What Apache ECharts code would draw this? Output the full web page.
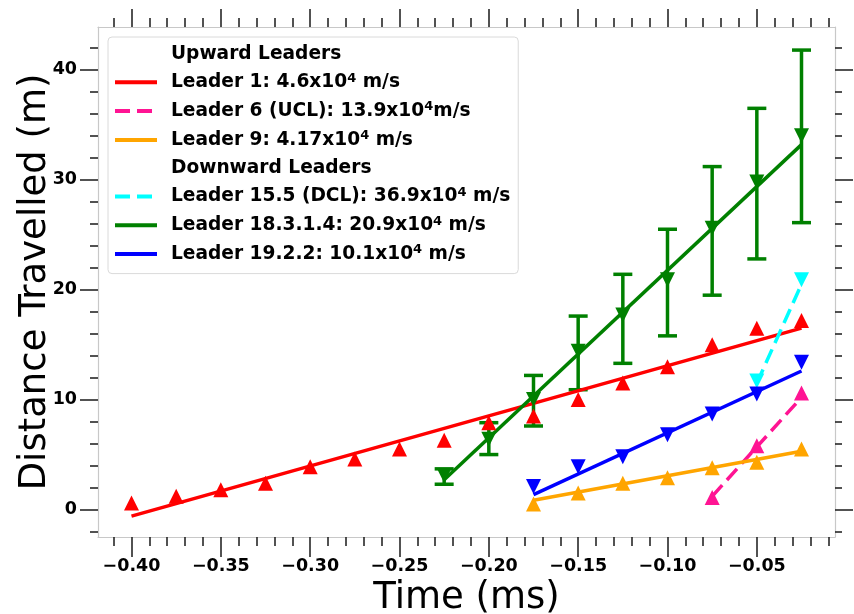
<!DOCTYPE html>
<html>
<head>
<meta charset="utf-8">
<script src="https://cdn.jsdelivr.net/npm/echarts@6/dist/echarts.min.js"></script>
<style>
  html, body { margin: 0; padding: 0; background: #fff; }
  #chart { width: 854px; height: 614px; }
</style>
</head>
<body>
<div id="chart"></div>
<script>
// axis ranges and ticks
const X_MIN = -0.41875
const X_MAX = -0.00625
const Y_MIN = -2.5
const Y_MAX = 43.9
const xMajor = [-0.40, -0.35, -0.30, -0.25, -0.20, -0.15, -0.10, -0.05]
const xMinor = [-0.41, -0.39, -0.38, -0.37, -0.36, -0.34, -0.33, -0.32, -0.31,
  -0.29, -0.28, -0.27, -0.26, -0.24, -0.23, -0.22, -0.21, -0.19, -0.18, -0.17, -0.16,
  -0.14, -0.13, -0.12, -0.11, -0.09, -0.08, -0.07, -0.06, -0.04, -0.03, -0.02, -0.01]
const yMajor = [0, 10, 20, 30, 40]
const yMinor = [-2, 2, 4, 6, 8, 12, 14, 16, 18, 22, 24, 26, 28, 32, 34, 36, 38, 42]

// legend labels
const headUp = 'Upward Leaders'
const headDown = 'Downward Leaders'
const nameL1 = 'Leader 1: 4.6x10⁴ m/s'
const nameL6 = 'Leader 6 (UCL): 13.9x10⁴m/s'
const nameL9 = 'Leader 9: 4.17x10⁴ m/s'
const nameL15 = 'Leader 15.5 (DCL): 36.9x10⁴ m/s'
const nameL18 = 'Leader 18.3.1.4: 20.9x10⁴ m/s'
const nameL19 = 'Leader 19.2.2: 10.1x10⁴ m/s'

// Leader 1 (upward)
const timeL1 = [-0.400, -0.375, -0.350, -0.325, -0.300, -0.275, -0.250, -0.225,
  -0.200, -0.175, -0.150, -0.125, -0.100, -0.075, -0.050, -0.025]
const distL1 = [0.6, 1.2, 1.8, 2.4, 3.9, 4.6, 5.5, 6.3, 7.9, 8.5, 10.0, 11.5, 13.0, 15.0, 16.5, 17.2]
const fitTimeL1 = [-0.400, -0.025]
const fitDistL1 = [-0.6, 16.5]

// Leader 6 (UCL)
const timeL6 = [-0.075, -0.050, -0.025]
const distL6 = [1.1, 5.8, 10.6]
const fitTimeL6 = [-0.075, -0.025]
const fitDistL6 = [1.2, 10.2]

// Leader 9
const timeL9 = [-0.175, -0.150, -0.125, -0.100, -0.075, -0.050, -0.025]
const distL9 = [0.5, 1.5, 2.4, 2.9, 3.8, 4.3, 5.5]
const fitTimeL9 = [-0.175, -0.025]
const fitDistL9 = [0.85, 5.3]

// Leader 15.5 (DCL)
const timeL15 = [-0.050, -0.025]
const distL15 = [11.7, 20.9]
const fitTimeL15 = [-0.050, -0.025]
const fitDistL15 = [11.5, 20.5]

// Leader 18.3.1.4 with error bars
const timeL18 = [-0.225, -0.200, -0.175, -0.150, -0.125, -0.100, -0.075, -0.050, -0.025]
const distL18 = [3.1, 6.4, 10.0, 14.4, 17.7, 20.9, 25.6, 29.8, 34.0]
const lowL18 = [2.3, 5.0, 7.6, 10.9, 13.3, 15.8, 19.5, 22.8, 26.1]
const highL18 = [3.7, 7.9, 12.2, 17.6, 21.4, 25.5, 31.2, 36.5, 41.8]
const fitTimeL18 = [-0.225, -0.025]
const fitDistL18 = [2.7, 33.2]

// Leader 19.2.2
const timeL19 = [-0.175, -0.150, -0.125, -0.100, -0.075, -0.050, -0.025]
const distL19 = [2.1, 3.9, 4.8, 6.8, 8.7, 10.5, 13.4]
const fitTimeL19 = [-0.175, -0.025]
const fitDistL19 = [1.35, 12.6]

const FONT = 'DejaVu Sans'
const SPINE = '#c8c8c8'
const TICK = '#1a1a1a'

function pairs(xs, ys) {
  return xs.map((x, i) => [x, ys[i]])
}

function fitLine(name, xs, ys, color, dashed) {
  return {
    type: 'line',
    name,
    data: pairs(xs, ys),
    symbol: 'none',
    z: 2,
    lineStyle: { color, width: 3.5, type: dashed ? [15, 7] : 'solid' },
    itemStyle: { color },
  }
}

function markers(xs, ys, color, down) {
  return {
    type: 'scatter',
    data: pairs(xs, ys),
    symbol: 'triangle',
    symbolSize: 15,
    symbolRotate: down ? 180 : 0,
    itemStyle: { color, opacity: 1 },
    z: 3,
  }
}

function heading(name) {
  return {
    type: 'line',
    name,
    data: [],
    symbol: 'none',
    lineStyle: { color: 'rgba(0,0,0,0)' },
    itemStyle: { color: 'rgba(0,0,0,0)' },
  }
}

function tickLabel(v) {
  const s = Math.abs(v).toFixed(2)
  return v < 0 ? '\u2212' + s : s
}

function xAxis(position, ticks, len, main) {
  return {
    type: 'value',
    position,
    min: X_MIN,
    max: X_MAX,
    splitLine: { show: false },
    axisLine: { show: main, onZero: false, lineStyle: { color: SPINE, width: 1.2 } },
    axisTick: { show: true, customValues: ticks, length: len, lineStyle: { color: TICK, width: 1.5 } },
    axisLabel: { show: false },
  }
}

function yAxis(position, ticks, len, main) {
  return {
    type: 'value',
    position,
    min: Y_MIN,
    max: Y_MAX,
    splitLine: { show: false },
    axisLine: { show: main, onZero: false, lineStyle: { color: SPINE, width: 1.2 } },
    axisTick: { show: true, customValues: ticks, length: len, lineStyle: { color: TICK, width: 1.5 } },
    axisLabel: { show: false },
  }
}

const bottomAxis = xAxis('bottom', xMajor, 20, true)
bottomAxis.axisLabel = {
  show: true,
  customValues: xMajor,
  margin: 20,
  formatter: tickLabel,
  fontFamily: FONT,
  fontWeight: 'bold',
  fontSize: 17.5,
  color: '#000',
}
bottomAxis.name = 'Time (ms)'
bottomAxis.nameLocation = 'middle'
bottomAxis.nameGap = 36
bottomAxis.nameTextStyle = { fontFamily: FONT, fontSize: 37, color: '#000' }

const leftAxis = yAxis('left', yMajor, 18, true)
leftAxis.axisLabel = {
  show: true,
  customValues: yMajor,
  margin: 21,
  fontFamily: FONT,
  fontWeight: 'bold',
  fontSize: 17.5,
  color: '#000',
}
leftAxis.name = 'Distance Travelled (m)'
leftAxis.nameLocation = 'middle'
leftAxis.nameGap = 44
leftAxis.nameMoveOverlap = false
leftAxis.nameTextStyle = { fontFamily: FONT, fontSize: 37, color: '#000' }

const errorBars = {
  type: 'custom',
  data: timeL18.map((t, i) => [t, lowL18[i], highL18[i]]),
  encode: { x: 0, y: [1, 2] },
  z: 2,
  renderItem(params, api) {
    const x = api.value(0)
    const lo = api.coord([x, api.value(1)])
    const hi = api.coord([x, api.value(2)])
    const cap = 9.5
    const style = { stroke: '#008000', lineWidth: 3.5 }
    return {
      type: 'group',
      children: [
        { type: 'line', shape: { x1: lo[0], y1: lo[1], x2: hi[0], y2: hi[1] }, style },
        { type: 'line', shape: { x1: lo[0] - cap, y1: lo[1], x2: lo[0] + cap, y2: lo[1] }, style },
        { type: 'line', shape: { x1: hi[0] - cap, y1: hi[1], x2: hi[0] + cap, y2: hi[1] }, style },
      ],
    }
  },
}

const chart = echarts.init(document.getElementById('chart'))
chart.setOption({
  animation: false,
  backgroundColor: '#fff',
  grid: { left: 98, right: 19, top: 27, bottom: 77, containLabel: false, outerBoundsMode: 'none' },
  legend: {
    left: 108,
    top: 37,
    orient: 'vertical',
    selectedMode: false,
    itemWidth: 42,
    itemHeight: 14,
    itemGap: 7.8,
    padding: [7, 8, 9, 5],
    backgroundColor: 'rgba(255,255,255,0.85)',
    borderColor: '#dadada',
    borderWidth: 1,
    borderRadius: 4,
    itemStyle: { opacity: 0 },
    lineStyle: { width: 4 },
    formatter: (name) => name.replace('⁴', '{sup|4}'),
    textStyle: {
      fontFamily: FONT,
      fontWeight: 'bold',
      fontSize: 18.6,
      color: '#000',
      lineHeight: 20,
      padding: [0, 0, 0, 9],
      rich: {
        sup: { fontFamily: FONT, fontWeight: 'bold', fontSize: 13, color: '#000', lineHeight: 12, padding: [0, 0, 8, 0] },
      },
    },
    data: [headUp, nameL1, nameL6, nameL9, headDown, nameL15, nameL18, nameL19],
  },
  xAxis: [
    bottomAxis,
    xAxis('bottom', xMinor, 9, false),
    xAxis('top', xMajor, 18, true),
    xAxis('top', xMinor, 9, false),
  ],
  yAxis: [
    leftAxis,
    yAxis('left', yMinor, 8, false),
    yAxis('right', yMajor, 18, true),
    yAxis('right', yMinor, 7, false),
  ],
  series: [
    heading(headUp),
    heading(headDown),
    fitLine(nameL1, fitTimeL1, fitDistL1, '#ff0000', false),
    markers(timeL1, distL1, '#ff0000', false),
    fitLine(nameL6, fitTimeL6, fitDistL6, '#ff1493', true),
    markers(timeL6, distL6, '#ff1493', false),
    fitLine(nameL9, fitTimeL9, fitDistL9, '#ffa500', false),
    markers(timeL9, distL9, '#ffa500', false),
    fitLine(nameL15, fitTimeL15, fitDistL15, '#00ffff', true),
    markers(timeL15, distL15, '#00ffff', true),
    errorBars,
    fitLine(nameL18, fitTimeL18, fitDistL18, '#008000', false),
    markers(timeL18, distL18, '#008000', true),
    fitLine(nameL19, fitTimeL19, fitDistL19, '#0000ff', false),
    markers(timeL19, distL19, '#0000ff', true),
  ],
})
</script>
</body>
</html>
